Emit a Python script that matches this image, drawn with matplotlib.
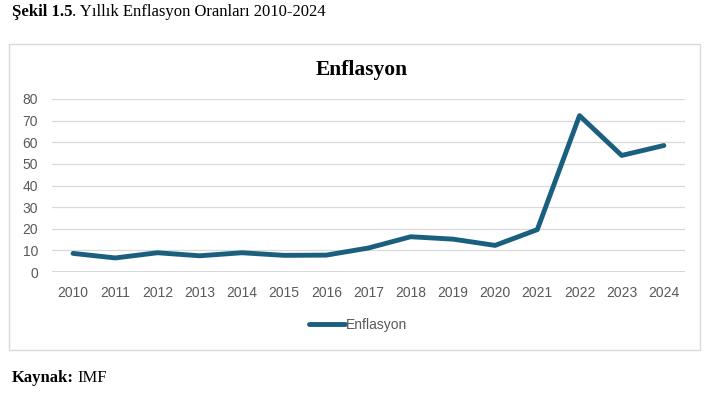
import matplotlib.pyplot as plt
from matplotlib.patches import Rectangle

years = ["2010", "2011", "2012", "2013", "2014", "2015", "2016", "2017",
         "2018", "2019", "2020", "2021", "2022", "2023", "2024"]
enflasyon = [8.6, 6.5, 8.9, 7.5, 8.9, 7.7, 7.8, 11.1, 16.3, 15.2, 12.3, 19.6, 72.3, 53.9, 58.5]
yticks = [0, 10, 20, 30, 40, 50, 60, 70, 80]

renk = "#1B5F7F"
gri = "#595959"
sans = ["Liberation Sans", "DejaVu Sans"]
serif = ["Liberation Serif", "DejaVu Serif"]

fig = plt.figure(figsize=(7.06, 3.94), dpi=100)
ax = fig.add_axes([52 / 706, 1 - 272 / 394, 633 / 706, 173 / 394])

x = list(range(len(years)))
ax.plot(x, enflasyon, color=renk, linewidth=3.5, solid_capstyle="round",
        solid_joinstyle="round", label="Enflasyon", zorder=3)

ax.set_xlim(-0.5, len(years) - 0.5)
ax.set_ylim(0, 80)
ax.set_yticks(yticks)
ax.set_xticks(x)
ax.set_xticklabels(years, family=sans, fontsize=10, color=gri)
ax.set_yticklabels([str(t) for t in yticks], family=sans, fontsize=10, color=gri)
ax.tick_params(length=0)
ax.tick_params(axis="y", pad=10)
ax.tick_params(axis="x", pad=10)
ax.grid(axis="y", color="#D9D9D9", linewidth=0.9)
for s in ax.spines.values():
    s.set_visible(False)
ax.axhline(0, color="#D0D0D0", linewidth=1.2, zorder=2)

# kutu cercevesi
fig.patches.append(Rectangle((8.5 / 706, 1 - 350 / 394), 691 / 706, 306 / 394,
                             transform=fig.transFigure, fill=False,
                             edgecolor="#D9D9D9", linewidth=1))

fig.text(362 / 706, 1 - 70 / 394, "Enflasyon", ha="center", va="center",
         family=serif, fontsize=15.5, fontweight="bold")

leg = fig.legend(loc="center", bbox_to_anchor=(358 / 706, 1 - 325 / 394),
                 frameon=False, handlelength=2.6, handletextpad=0.1,
                 prop={"family": sans, "size": 10})
for t in leg.get_texts():
    t.set_color(gri)

t1 = fig.text(12 / 706, 1 - 12 / 394, "Şekil 1.5", family=serif, fontsize=12,
              fontweight="bold", va="center", ha="left")
fig.canvas.draw()
bb = t1.get_window_extent()
fig.text(bb.x1 / 706, 1 - 12 / 394, ". Yıllık Enflasyon Oranları 2010-2024",
         family=serif, fontsize=12, va="center", ha="left")

t2 = fig.text(12 / 706, 1 - 378 / 394, "Kaynak:", family=serif, fontsize=12,
              fontweight="bold", va="center", ha="left")
fig.canvas.draw()
bb = t2.get_window_extent()
fig.text((bb.x1 + 3) / 706, 1 - 378 / 394, "IMF", family=serif, fontsize=12,
         va="center", ha="left")

plt.savefig("out.png", dpi=100)
plt.close()
